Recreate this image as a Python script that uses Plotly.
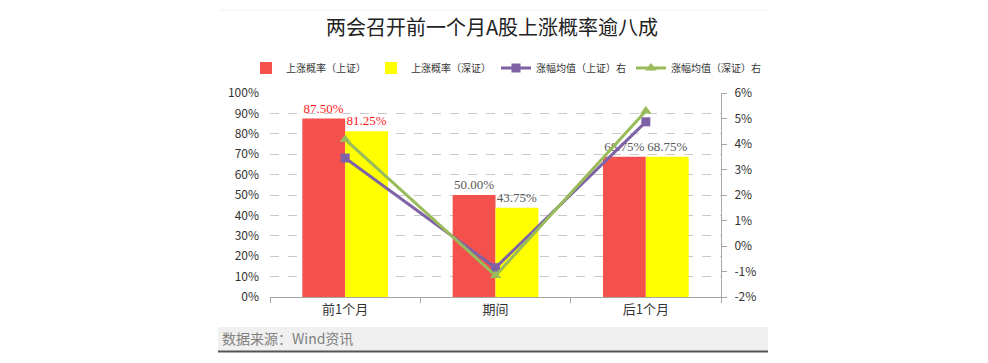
import plotly.graph_objects as go

categories = ["前1个月", "期间", "后1个月"]
up_prob_sh = [87.50, 50.00, 68.75]
up_prob_sz = [81.25, 43.75, 68.75]
avg_chg_sh = [3.45, -0.85, 4.87]
avg_chg_sz = [4.18, -1.16, 5.29]
left_ticks = [0, 10, 20, 30, 40, 50, 60, 70, 80, 90, 100]
right_ticks = [-2, -1, 0, 1, 2, 3, 4, 5, 6]

# page body has an 8px margin; work in screen pixels and subtract it
OFF = 8
W, H = 988 - 2 * OFF, 363 - 2 * OFF
L, R, T, B = 270, 721, 93, 297  # plot area in screen pixels

def px2x(px):
    return (px - L) / (R - L)

def py2y(py):
    return (B - py) / (B - T)

font_cjk = "Noto Sans CJK SC, Microsoft YaHei, sans-serif"
lbl_font = "Liberation Serif, DejaVu Serif, serif"

fig = go.Figure()
fig.add_trace(go.Bar(
    x=categories, y=up_prob_sh, name="上涨概率（上证）",
    marker=dict(color="#F4514D", line=dict(width=0)),
    text=[f"{v:.2f}%" for v in up_prob_sh], textposition="outside",
    textfont=dict(family=lbl_font, size=13, color=["#FF1A1A", "#595959", "#595959"]),
    cliponaxis=False,
))
fig.add_trace(go.Bar(
    x=categories, y=up_prob_sz, name="上涨概率（深证）",
    marker=dict(color="#FFFF00", line=dict(width=0)),
    text=[f"{v:.2f}%" for v in up_prob_sz], textposition="outside",
    textfont=dict(family=lbl_font, size=13, color=["#FF1A1A", "#595959", "#595959"]),
    cliponaxis=False,
))
fig.add_trace(go.Scatter(
    x=categories, y=avg_chg_sh, name="涨幅均值（上证）右", yaxis="y2",
    mode="lines+markers", line=dict(color="#7F62A6", width=3),
    marker=dict(symbol="square", size=9, color="#7F62A6"),
))
fig.add_trace(go.Scatter(
    x=categories, y=avg_chg_sz, name="涨幅均值（深证）右", yaxis="y2",
    mode="lines+markers", line=dict(color="#9ABB5A", width=3),
    marker=dict(symbol="triangle-up", size=10, color="#9ABB5A"),
))

fig.update_layout(
    width=W, height=H,
    margin=dict(l=L - OFF, r=W - (R - OFF), t=T - OFF, b=H - (B - OFF), pad=0,
                autoexpand=False),
    paper_bgcolor="white", plot_bgcolor="white",
    barmode="group", bargap=0.43, bargroupgap=0,
    font=dict(family=font_cjk, size=12, color="#333333"),
    title=dict(text="两会召开前一个月A股上涨概率逾八成", x=px2x(492), xref="paper",
               xanchor="center", y=1 - (28 - OFF) / H, yanchor="middle",
               font=dict(family=font_cjk, size=20, color="#222222")),
    showlegend=True,
    legend=dict(orientation="h", x=px2x(246), xanchor="left", y=py2y(68), yanchor="middle",
                xref="paper", yref="paper",
                font=dict(family=font_cjk, size=10, color="#333333"),
                itemwidth=30, tracegroupgap=0, bgcolor="rgba(0,0,0,0)"),
    xaxis=dict(showline=True, linecolor="#A6A6A6", linewidth=1, ticks="outside",
               tickson="boundaries", ticklen=5, tickcolor="#A6A6A6",
               tickfont=dict(family=font_cjk, size=13, color="#333333"),
               showgrid=False, zeroline=False),
    yaxis=dict(range=[0, 100], tickvals=left_ticks,
               ticktext=[f"{v}%" for v in left_ticks],
               showgrid=True, gridcolor="#C8C8C8", griddash="dash", gridwidth=1,
               showline=False, zeroline=False, ticks="", ticklabelstandoff=10,
               tickfont=dict(family=font_cjk, size=12, color="#333333")),
    yaxis2=dict(range=[-2, 6], tickvals=right_ticks,
                ticktext=[f"{v}%" for v in right_ticks],
                overlaying="y", side="right", showgrid=False, zeroline=False,
                showline=True, linecolor="#A6A6A6", linewidth=1,
                ticks="outside", ticklen=5, tickcolor="#A6A6A6", ticklabelstandoff=5,
                tickfont=dict(family=font_cjk, size=12, color="#333333")),
    shapes=[
        dict(type="line", xref="paper", yref="paper", x0=px2x(220), x1=px2x(768),
             y0=py2y(10), y1=py2y(10), line=dict(color="#F0F0F0", width=1)),
        dict(type="rect", xref="paper", yref="paper", x0=px2x(218), x1=px2x(768),
             y0=py2y(351), y1=py2y(327), fillcolor="#F0F0F0", line=dict(width=0),
             layer="below"),
        dict(type="line", xref="paper", yref="paper", x0=px2x(218), x1=px2x(768),
             y0=py2y(351.5), y1=py2y(351.5), line=dict(color="#555555", width=2)),
    ],
    annotations=[
        dict(text="数据来源：Wind资讯", xref="paper", yref="paper", x=px2x(220),
             y=py2y(338), xanchor="left", yanchor="middle", showarrow=False,
             font=dict(family=font_cjk, size=14, color="#808080")),
    ],
)

fig.write_html("out.html")
